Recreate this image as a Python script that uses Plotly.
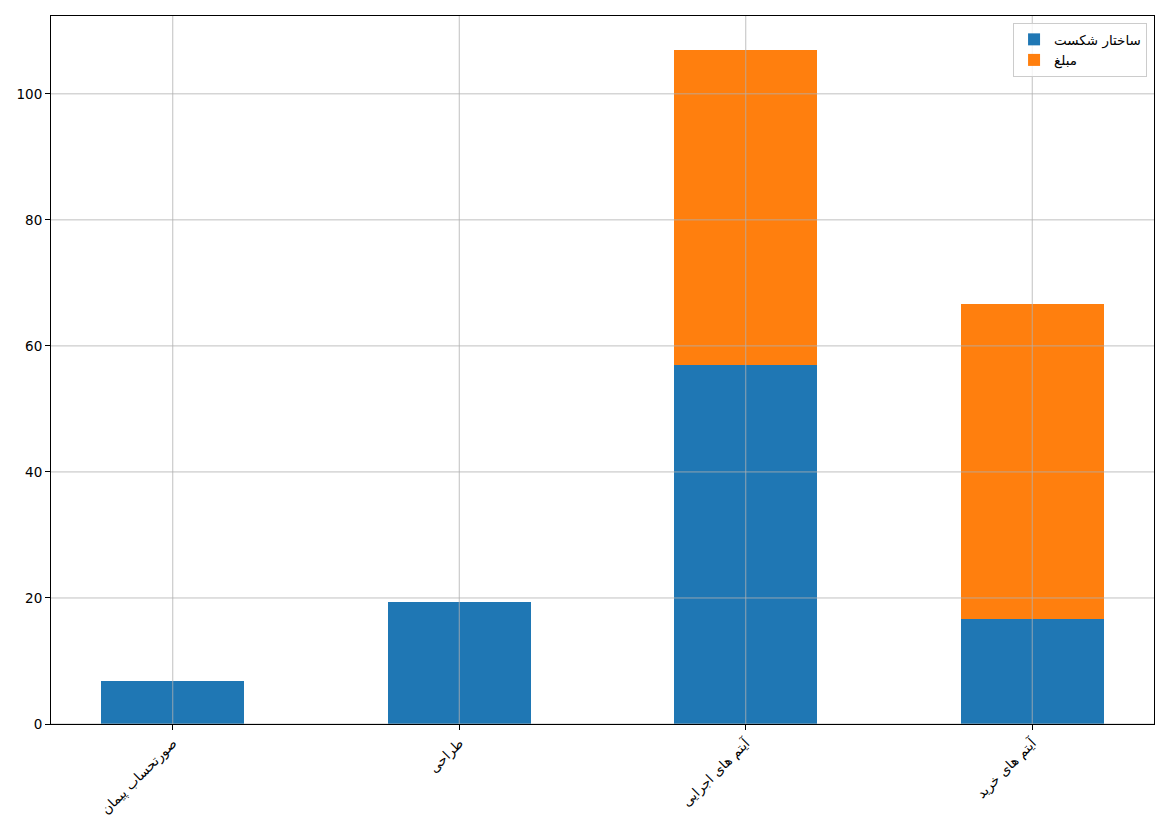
import plotly.graph_objects as go

categories = ["صورتحساب پیمان", "طراحی", "آیتم های اجرایی", "آیتم های خرید"]
wbs_values = [6.8, 19.4, 57.0, 16.7]
amount_values = [0, 0, 50.0, 50.0]
series_names = ["ساختار شکست", "مبلغ"]
y_ticks = [0, 20, 40, 60, 80, 100]

x_pos = list(range(len(categories)))

fig = go.Figure()
fig.add_bar(x=x_pos, y=wbs_values, name=series_names[0], marker_color="#1f77b4",
            marker_line_width=0, width=0.5)
fig.add_bar(x=x_pos, y=amount_values, name=series_names[1], marker_color="#ff7f0e",
            marker_line_width=0, width=0.5)

grid_color = "#b0b0b0"
shapes = []
for v in y_ticks:
    shapes.append(dict(type="line", xref="paper", yref="y", x0=0, x1=1, y0=v, y1=v,
                       line=dict(color=grid_color, width=0.8), layer="above"))
for xv in x_pos:
    shapes.append(dict(type="line", xref="x", yref="paper", x0=xv, x1=xv, y0=0, y1=1,
                       line=dict(color=grid_color, width=0.8), layer="above"))

total_max = max(a + b for a, b in zip(wbs_values, amount_values))

fig.update_layout(
    width=1169, height=827,
    margin=dict(l=51, r=15, t=16, b=103),
    barmode="stack",
    plot_bgcolor="white", paper_bgcolor="white",
    font=dict(family="DejaVu Sans", size=13.5, color="black"),
    shapes=shapes,
    showlegend=True,
    legend=dict(x=0.9937, y=0.990, xanchor="right", yanchor="top",
                bgcolor="rgba(255,255,255,0.8)", bordercolor="#cccccc", borderwidth=1,
                traceorder="normal", font=dict(size=13.5)),
    xaxis=dict(range=[-0.425, len(categories) - 1 + 0.425], tickvals=x_pos, ticktext=categories,
               tickangle=-45, showgrid=False, zeroline=False, showline=True, linecolor="black",
               linewidth=1, mirror=True, ticks="outside", ticklen=5, tickcolor="black",
               automargin=False),
    yaxis=dict(range=[0, total_max * 1.05], tickvals=y_ticks, showgrid=False, zeroline=False,
               showline=True, linecolor="black", linewidth=1, mirror=True, ticks="outside",
               ticklen=5, tickcolor="black", automargin=False),
)

fig.write_html("out.html", config={"displayModeBar": False},
               post_script="document.body.style.margin='0';document.body.style.overflow='hidden';")
